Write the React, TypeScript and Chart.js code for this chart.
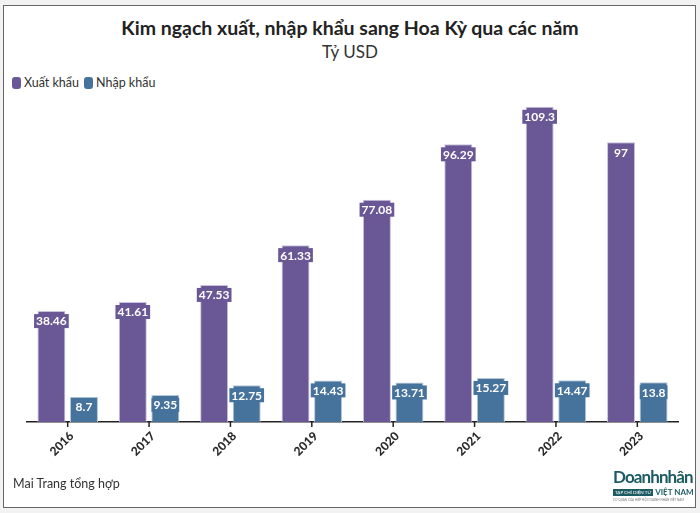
import React, { useEffect, useRef } from "react";
import { Chart, registerables } from "chart.js";

Chart.register(...registerables);

const years = ["2016", "2017", "2018", "2019", "2020", "2021", "2022", "2023"];
const exportValues = [38.46, 41.61, 47.53, 61.33, 77.08, 96.29, 109.3, 97];
const importValues = [8.7, 9.35, 12.75, 14.43, 13.71, 15.27, 14.47, 13.8];
const seriesNames = ["Xuất khẩu", "Nhập khẩu"];
const seriesColors = ["#6a5795", "#46739c"];
const seriesBorders = ["#c9c1dd", "#b5c8da"];

const FONT = "Lato, 'Noto Sans', sans-serif";

const labelPlugin = {
  id: "valueLabels",
  afterDatasetsDraw(chart: any) {
    const ctx = chart.ctx;
    ctx.save();
    ctx.font = `bold 12px ${FONT}`;
    ctx.textAlign = "center";
    ctx.textBaseline = "middle";
    chart.data.datasets.forEach((ds: any, di: number) => {
      const meta = chart.getDatasetMeta(di);
      meta.data.forEach((bar: any, i: number) => {
        const txt = String(ds.data[i]);
        const w = ctx.measureText(txt).width + 4;
        const cy = bar.y + 10;
        ctx.fillStyle = seriesColors[di];
        ctx.fillRect(bar.x - w / 2, cy - 7, w, 14);
        ctx.fillStyle = "#ffffff";
        ctx.fillText(txt, bar.x, cy + 0.5);
      });
    });
    // x-axis tick marks and rotated category labels
    const xs = chart.scales.x;
    const y0 = chart.chartArea.bottom;
    ctx.strokeStyle = "#222";
    ctx.lineWidth = 1.5;
    ctx.font = `900 12px ${FONT}`;
    ctx.fillStyle = "#2a2a2a";
    ctx.textAlign = "right";
    ctx.textBaseline = "middle";
    chart.data.labels.forEach((lab: string, i: number) => {
      const x = xs.getPixelForTick(i);
      ctx.beginPath();
      ctx.moveTo(x, y0);
      ctx.lineTo(x, y0 + 5);
      ctx.stroke();
      ctx.save();
      ctx.translate(x + 4, y0 + 12);
      ctx.rotate(-Math.PI / 4);
      ctx.fillText(lab, 0, 0);
      ctx.restore();
    });
    ctx.restore();
  },
};

export default function App() {
  const ref = useRef<HTMLCanvasElement>(null);
  useEffect(() => {
    document.body.style.margin = "0";
    const chart = new Chart(ref.current!, {
      type: "bar",
      data: {
        labels: years,
        datasets: [
          {
            label: seriesNames[0],
            data: exportValues,
            backgroundColor: seriesColors[0],
            borderColor: seriesBorders[0],
            borderWidth: 1,
          },
          {
            label: seriesNames[1],
            data: importValues,
            backgroundColor: seriesColors[1],
            borderColor: seriesBorders[1],
            borderWidth: 1,
          },
        ],
      },
      options: {
        animation: false,
        responsive: false,
        maintainAspectRatio: false,
        layout: { padding: { left: 27, right: 22, top: 99, bottom: 0 } },
        datasets: { bar: { categoryPercentage: 0.8, barPercentage: 0.86 } },
        plugins: {
          legend: { display: false },
          title: { display: false },
          tooltip: { enabled: false },
        },
        scales: {
          x: {
            grid: { display: false },
            border: { display: true, color: "#222", width: 1.5 },
            ticks: { display: false },
            afterFit: (scale: any) => {
              scale.height = 91;
            },
          },
          y: {
            display: false,
            min: 0,
            max: 112,
          },
        },
      },
      plugins: [labelPlugin],
    });
    return () => chart.destroy();
  }, []);

  return (
    <div style={{ position: "relative", width: 700, height: 513, background: "#f2f2f2", overflow: "hidden", fontFamily: FONT }}>
      <div style={{ position: "absolute", left: 3, top: 5, width: 691, height: 501, border: "1px solid #666", background: "#fff" }} />
      <div style={{ position: "absolute", left: 0, top: 16, width: 700, textAlign: "center", fontSize: 19.5, fontWeight: 700, color: "#222" }}>
        Kim ngạch xuất, nhập khẩu sang Hoa Kỳ qua các năm
      </div>
      <div style={{ position: "absolute", left: 0, top: 41, width: 700, textAlign: "center", fontSize: 17, color: "#333" }}>
        Tỷ USD
      </div>
      <div style={{ position: "absolute", left: 12, top: 75, display: "flex", alignItems: "center", fontSize: 12.5, color: "#333" }}>
        <span style={{ display: "inline-block", width: 9, height: 12, borderRadius: 3, background: seriesColors[0], marginRight: 3 }} />
        <span style={{ marginRight: 5 }}>{seriesNames[0]}</span>
        <span style={{ display: "inline-block", width: 9, height: 12, borderRadius: 3, background: seriesColors[1], marginRight: 3 }} />
        <span>{seriesNames[1]}</span>
      </div>
      <canvas ref={ref} width={700} height={513} style={{ position: "absolute", left: 0, top: 0 }} />
      <div style={{ position: "absolute", left: 13, top: 476, fontSize: 12.5, color: "#333" }}>Mai Trang tổng hợp</div>
      <div style={{ position: "absolute", left: 613, top: 467, width: 75 }}>
        <div style={{ fontSize: 17, fontWeight: 700, color: "#1d5b63", letterSpacing: -0.9, lineHeight: "19px", whiteSpace: "nowrap" }}>Doanhnhân</div>
        <div style={{ display: "flex", alignItems: "center", marginTop: 1 }}>
          <span style={{ background: "#1d5b63", color: "#fff", fontSize: 4.5, padding: "1px 2px", whiteSpace: "nowrap" }}>TẠP CHÍ ĐIỆN TỬ</span>
          <span style={{ fontSize: 8, color: "#1d5b63", marginLeft: 2, whiteSpace: "nowrap", fontWeight: 700 }}>VIỆT NAM</span>
        </div>
        <div style={{ fontSize: 3, color: "#777", whiteSpace: "nowrap", marginTop: 1 }}>CƠ QUAN CỦA HIỆP HỘI DOANH NHÂN VIỆT NAM</div>
      </div>
    </div>
  );
}
